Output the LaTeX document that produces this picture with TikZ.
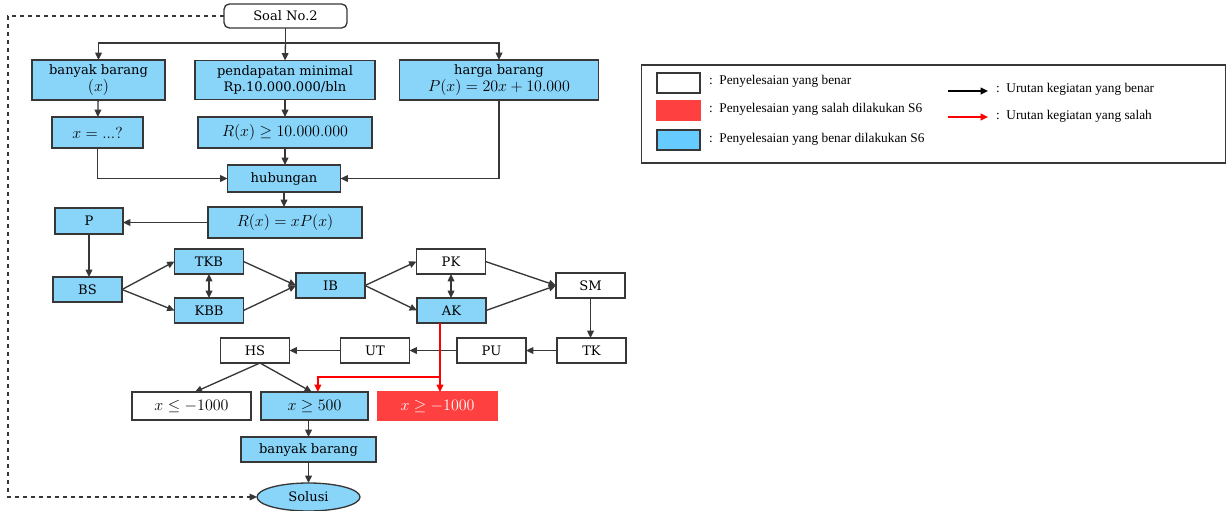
\documentclass[tikz,border=0pt]{standalone}
\usepackage{fontspec}
\setmainfont{DejaVu Serif}
\newfontfamily\legfont{Liberation Serif}
\usetikzlibrary{arrows.meta,shapes.geometric}
\definecolor{boxblue}{RGB}{137,213,250}
\definecolor{legblue}{RGB}{102,204,255}
\definecolor{boxred}{RGB}{255,64,64}
\definecolor{edge}{RGB}{55,55,55}
\newcommand{\mth}[1]{{\fontsize{12}{13}\selectfont$#1$}}
\begin{document}
\begin{tikzpicture}[x=0.75pt,y=-0.75pt,
  every node/.style={inner sep=0pt,outer sep=0pt,font=\fontsize{9.8}{12.5}\selectfont,align=center},
  bx/.style={draw=edge,line width=1pt,fill=boxblue},
  wb/.style={draw=edge,line width=1pt,fill=white},
  rb/.style={draw=boxred,line width=1pt,fill=boxred,text=white},
  sm/.style={minimum width=51.75pt,minimum height=18.75pt},
  arr/.style={draw=edge,line width=1pt,-{Triangle[length=5.5pt,width=5pt]}},
  ln/.style={draw=edge,line width=1pt},
  dbl/.style={draw=edge,line width=1pt,{Triangle[length=5.5pt,width=5pt]}-{Triangle[length=5.5pt,width=5pt]}},
  rarr/.style={draw=red,line width=1.6pt,-{Triangle[length=5.5pt,width=5pt]}},
  leg/.style={font=\legfont\fontsize{10}{12}\selectfont,anchor=west}
]
\useasboundingbox (0,0) rectangle (1226,510);
% top
\node[wb,rounded corners=4pt,minimum width=92.25pt,minimum height=18pt] (soal) at (285.5,16) {Soal No.2};
\node[bx,minimum width=99.75pt,minimum height=30pt] (bb) at (98.5,80) {banyak barang\\\mth{(x)}};
\node[bx,minimum width=135pt,minimum height=29.25pt] (pm) at (285,80) {pendapatan minimal\\Rp.10.000.000/bln};
\node[bx,minimum width=149.25pt,minimum height=30pt] (hb) at (499,80) {harga barang\\\mth{P(x)=20x+10.000}};
\node[bx,minimum width=68.25pt,minimum height=23.25pt] (xq) at (97.5,132.5) {\mth{x=\mathrm{...?}}};
\node[bx,minimum width=130.5pt,minimum height=23.25pt] (rx) at (285,132.5) {\mth{R(x)\geq 10.000.000}};
\node[bx,minimum width=84.75pt,minimum height=20.25pt] (hub) at (284,178.5) {hubungan};
\node[bx,minimum width=115.5pt,minimum height=23.25pt] (rxp) at (285,222.5) {\mth{R(x)=xP(x)}};
\node[bx,minimum width=51pt,minimum height=19.5pt] (P) at (89,221) {P};
\node[bx,sm] (BS) at (87.5,289.5) {BS};
\node[bx,sm] (TKB) at (209,261.5) {TKB};
\node[bx,sm] (KBB) at (209,310.5) {KBB};
\node[bx,sm] (IB) at (330.5,285.5) {IB};
\node[wb,sm] (PK) at (451,261.5) {PK};
\node[bx,sm] (AK) at (451.5,310.5) {AK};
\node[wb,sm] (SM) at (590.5,285.5) {SM};
\node[wb,sm] (TK) at (591.5,350.5) {TK};
\node[wb,sm] (PU) at (491.5,350.5) {PU};
\node[wb,sm] (UT) at (375,350.5) {UT};
\node[wb,sm] (HS) at (255,350.5) {HS};
\node[wb,minimum width=89.25pt,minimum height=21pt] (xle) at (191.5,406) {\mth{x\leq -1000}};
\node[bx,minimum width=80.25pt,minimum height=21pt] (xge) at (314.5,406) {\mth{x\geq 500}};
\node[rb,minimum width=89.25pt,minimum height=21pt] (xr) at (437.5,406) {\mth{x\geq -1000}};
\node[bx,minimum width=101.25pt,minimum height=18.75pt] (bb2) at (308.5,449.5) {banyak barang};
\node[bx,ellipse,minimum width=77.25pt,minimum height=21pt] (sol) at (308.5,497) {Solusi};
% connectors
\coordinate (jt) at (285.5,43);
\draw[ln] (soal.south) -- (jt);
\draw[arr] (jt) -- (pm.north);
\draw[arr] (jt) -| (bb.north);
\draw[arr] (jt) -| (hb.north);
\draw[arr] (bb) -- (xq);
\draw[arr] (pm) -- (rx);
\draw[arr] (rx.south) -- (rx.south |- hub.north);
\draw[arr] (xq.south) |- (hub.west);
\draw[arr] (hb.south) |- (hub.east);
\draw[arr] (hub.south) -- (hub.south |- rxp.north);
\draw[arr] (rxp.west) -- (rxp.west -| P.east);
\draw[arr] (P.south) -- (P.south |- BS.north);
\draw[arr] (BS.east) -- (TKB.west);
\draw[arr] (BS.east) -- (KBB.west);
\draw[dbl] (TKB) -- (KBB);
\draw[arr] (TKB.east) -- (IB.west);
\draw[arr] (KBB.east) -- (IB.west);
\draw[arr] (IB.east) -- (PK.west);
\draw[arr] (IB.east) -- (AK.west);
\draw[dbl] (PK.south) -- (PK.south |- AK.north);
\draw[arr] (PK.east) -- (SM.west);
\draw[arr] (AK.east) -- (SM.west);
\draw[arr] (SM.south) -- (SM.south |- TK.north);
\draw[arr] (TK) -- (PU);
\draw[arr] (PU) -- (UT);
\draw[arr] (UT) -- (HS);
\draw[arr] ([xshift=3.75pt]HS.south) -- ([xshift=2.5pt]xle.north);
\draw[arr] ([xshift=3.75pt]HS.south) -- ([xshift=-2pt]xge.north);
\coordinate (rj) at (440,377);
\draw[draw=red,line width=1.6pt] (AK.south -| rj) -- (rj);
\draw[rarr] (rj) -- (rj |- xr.north);
\draw[rarr] (rj) -| ([xshift=2.5pt]xge.north);
\draw[arr] (xge.south -| bb2.north) -- (bb2.north);
\draw[arr] (bb2) -- (sol);
\coordinate (dtl) at (8,16);
\coordinate (dbl) at (8,497);
\draw[draw=edge,line width=0.9pt,dashed,-{Triangle[length=5.5pt,width=5pt]}] (soal.west) -- (dtl) -- (dbl) -- (sol.west);
% legend
\node[draw=edge,line width=1.2pt,fill=white,minimum width=438pt,minimum height=73.5pt,anchor=north west] (legbox) at (641.5,65) {};
\node[wb,minimum width=32.25pt,minimum height=15pt] (s1) at (678.5,83) {};
\node[draw=boxred,line width=0.8pt,fill=boxred,minimum width=32.25pt,minimum height=15pt] (s2) at (678.5,110.5) {};
\node[draw=edge,line width=1pt,fill=legblue,minimum width=32.25pt,minimum height=15pt] (s3) at (678.5,140) {};
\node[leg] (t1) at (709,81) {:\ \ Penyelesaian yang benar};
\node[leg] (t2) at (709,109) {:\ \ Penyelesaian yang salah dilakukan S6};
\node[leg] (t3) at (709,139) {:\ \ Penyelesaian yang benar dilakukan S6};
\node[leg] (t4) at (996,89) {:\ \ Urutan kegiatan yang benar};
\node[leg] (t5) at (996,116) {:\ \ Urutan kegiatan yang salah};
\coordinate (a1) at (948,91);
\coordinate (a2) at (948,117);
\draw[draw=black,line width=1pt,-{Triangle[length=5.5pt,width=5pt]}] (a1) -- ([xshift=-6pt]a1 -| t4.west);
\draw[draw=red,line width=1.6pt,-{Triangle[length=5.5pt,width=5pt]}] (a2) -- ([xshift=-6pt]a2 -| t5.west);
\end{tikzpicture}
\end{document}
